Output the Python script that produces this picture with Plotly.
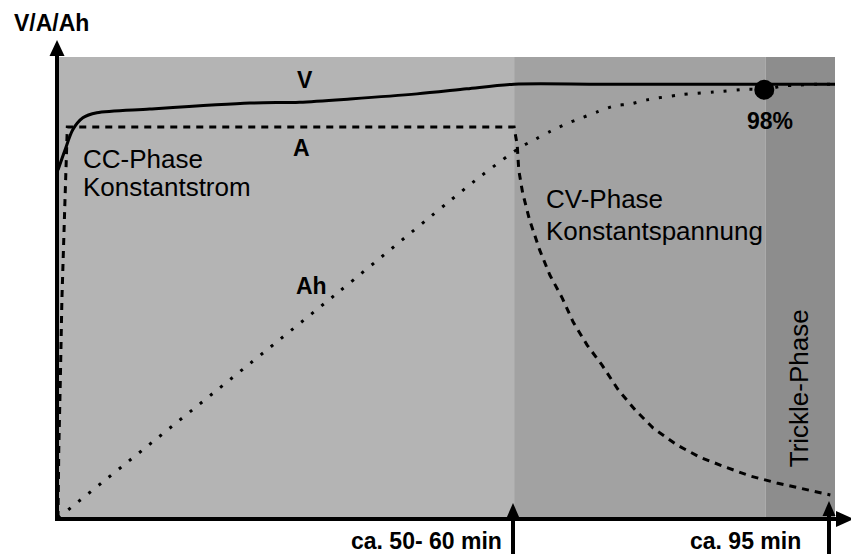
import plotly.graph_objects as go

# ---- data (x: time 0..100 relative units, y: 0..100 relative level) ----
phase_names = ["CC", "CV", "Trickle"]
phase_start = [0, 58.7, 91.1]
phase_end = [58.7, 91.1, 100]
phase_colors = ["#b4b4b4", "#a2a2a2", "#8d8d8d"]

v_x = [0, 0.9, 1.9, 3.2, 5.0, 11.8, 24.7, 31.1, 37.6, 46.2, 52.6, 58.7, 70, 100]
v_y = [75.5, 79.8, 84.2, 86.8, 87.9, 88.7, 90.0, 90.2, 90.9, 92.0, 93.1, 94.1, 94.1, 94.1]

a_x = [0, 0.1, 0.3, 0.5, 0.9, 1.2, 58.7, 59.1, 59.3, 59.8, 60.7, 62.0, 63.3, 64.9,
       66.3, 68.1, 70.0, 72.1, 74.3, 76.6, 79.7, 82.6, 85.8, 89.1, 92.5, 95.9, 99.4]
a_y = [0, 14.8, 29.9, 47.3, 69.0, 84.8, 84.8, 80.9, 75.5, 70.5, 64.6, 58.1, 52.7, 47.7,
       42.5, 37.5, 33.2, 27.8, 23.4, 19.5, 15.8, 13.2, 11.1, 9.1, 7.6, 6.3, 5.0]

ah_x = [0, 35.8, 54.3, 59.6, 61.5, 63.4, 65.4, 67.4, 69.4, 71.6, 73.6, 75.8, 80.1,
        84.4, 88.8, 90.9, 93.2, 95.2, 97.7, 100]
ah_y = [0, 48.6, 74.0, 80.5, 82.2, 83.9, 85.5, 86.8, 88.1, 89.4, 89.8, 90.7, 91.8,
        92.4, 93.0, 92.9, 93.7, 93.9, 94.1, 94.1]

mark_x = [90.9]
mark_y = [92.9]
mark_label = ["98%"]

time_labels = ["ca. 50- 60 min", "ca. 95 min"]

# ---- layout geometry (window pixels) ----
W, H = 859, 554
OFF = 8  # default body margin of the html page
L, R, T, B = 58, 835, 57, 518


def px(x):
    return (x - L) / (R - L)


def py(y):
    return (B - y) / (B - T)


FONT = "Liberation Sans, Arial, Helvetica, sans-serif"
BOLD = 23
REG = 26

fig = go.Figure()

fig.add_trace(go.Scatter(x=ah_x, y=ah_y, mode="lines",
                         line=dict(color="black", width=3, dash="3px,10px", shape="spline", smoothing=0.8),
                         hoverinfo="skip", showlegend=False))
fig.add_trace(go.Scatter(x=a_x, y=a_y, mode="lines",
                         line=dict(color="black", width=3, dash="7px,6px"),
                         hoverinfo="skip", showlegend=False))
fig.add_trace(go.Scatter(x=v_x, y=v_y, mode="lines",
                         line=dict(color="black", width=3, shape="spline", smoothing=0.8),
                         hoverinfo="skip", showlegend=False))
fig.add_trace(go.Scatter(x=mark_x, y=mark_y, mode="markers",
                         marker=dict(color="black", size=20),
                         hoverinfo="skip", showlegend=False))

shapes = []
for s, e, c in zip(phase_start, phase_end, phase_colors):
    shapes.append(dict(type="rect", xref="x", yref="y", x0=s, x1=e, y0=0, y1=100,
                       fillcolor=c, line=dict(width=0), layer="below"))

# axes with arrows
shapes.append(dict(type="line", xref="paper", yref="paper", x0=px(57), x1=px(57), y0=py(521), y1=py(50),
                   line=dict(color="black", width=4), layer="above"))
shapes.append(dict(type="path", xref="paper", yref="paper",
                   path=f"M {px(57)},{py(40)} L {px(49.5)},{py(56)} L {px(64.5)},{py(56)} Z",
                   fillcolor="black", line=dict(width=0), layer="above"))
shapes.append(dict(type="line", xref="paper", yref="paper", x0=px(55), x1=px(840), y0=py(519), y1=py(519),
                   line=dict(color="black", width=4), layer="above"))
shapes.append(dict(type="path", xref="paper", yref="paper",
                   path=f"M {px(854)},{py(519)} L {px(836)},{py(511)} L {px(836)},{py(527)} Z",
                   fillcolor="black", line=dict(width=0), layer="above"))
# time markers (up arrows)
for xa, tip in [(513, 503), (829, 501)]:
    shapes.append(dict(type="line", xref="paper", yref="paper", x0=px(xa), x1=px(xa), y0=py(556), y1=py(tip + 10),
                       line=dict(color="black", width=4), layer="above"))
    shapes.append(dict(type="path", xref="paper", yref="paper",
                       path=f"M {px(xa)},{py(tip)} L {px(xa - 6.5)},{py(tip + 15)} L {px(xa + 6.5)},{py(tip + 15)} Z",
                       fillcolor="black", line=dict(width=0), layer="above"))

ann = []


def add(text, x, y, size, bold=False, xanchor="center", yanchor="middle", xref="x", yref="y", angle=0):
    t = f"<b>{text}</b>" if bold else text
    ann.append(dict(text=t, x=x, y=y, xref=xref, yref=yref, showarrow=False,
                    xanchor=xanchor, yanchor=yanchor, textangle=angle,
                    font=dict(family=FONT, size=size, color="black")))


add("V/A/Ah", px(12), py(23), BOLD, True, "left", xref="paper", yref="paper")
add("V", 31.8, 95.0, BOLD, True)
add("A", 31.3, 80.3, BOLD, True)
add("Ah", 32.6, 50.3, BOLD, True)
add("CC-Phase", 3.0, 77.9, REG, False, "left")
add("Konstantstrom", 3.0, 71.8, REG, False, "left")
add("CV-Phase", 62.5, 69.2, REG, False, "left")
add("Konstantspannung", 62.5, 62.3, REG, False, "left")
add("Trickle-Phase", 95.4, 28.2, REG, False, angle=-90)
add(mark_label[0], 91.6, 86.1, BOLD, True)
add(time_labels[0], px(504), py(541), BOLD, True, "right", xref="paper", yref="paper")
add(time_labels[1], px(688), py(541), BOLD, True, "left", xref="paper", yref="paper")

fig.update_layout(
    width=W - OFF, height=H - OFF, autosize=False,
    margin=dict(l=L - OFF, r=W - R, t=T - OFF, b=H - B, pad=0),
    paper_bgcolor="white", plot_bgcolor="white",
    xaxis=dict(range=[0, 100], visible=False, fixedrange=True),
    yaxis=dict(range=[0, 100], visible=False, fixedrange=True),
    shapes=shapes, annotations=ann, showlegend=False,
)

fig.write_html("out.html")
